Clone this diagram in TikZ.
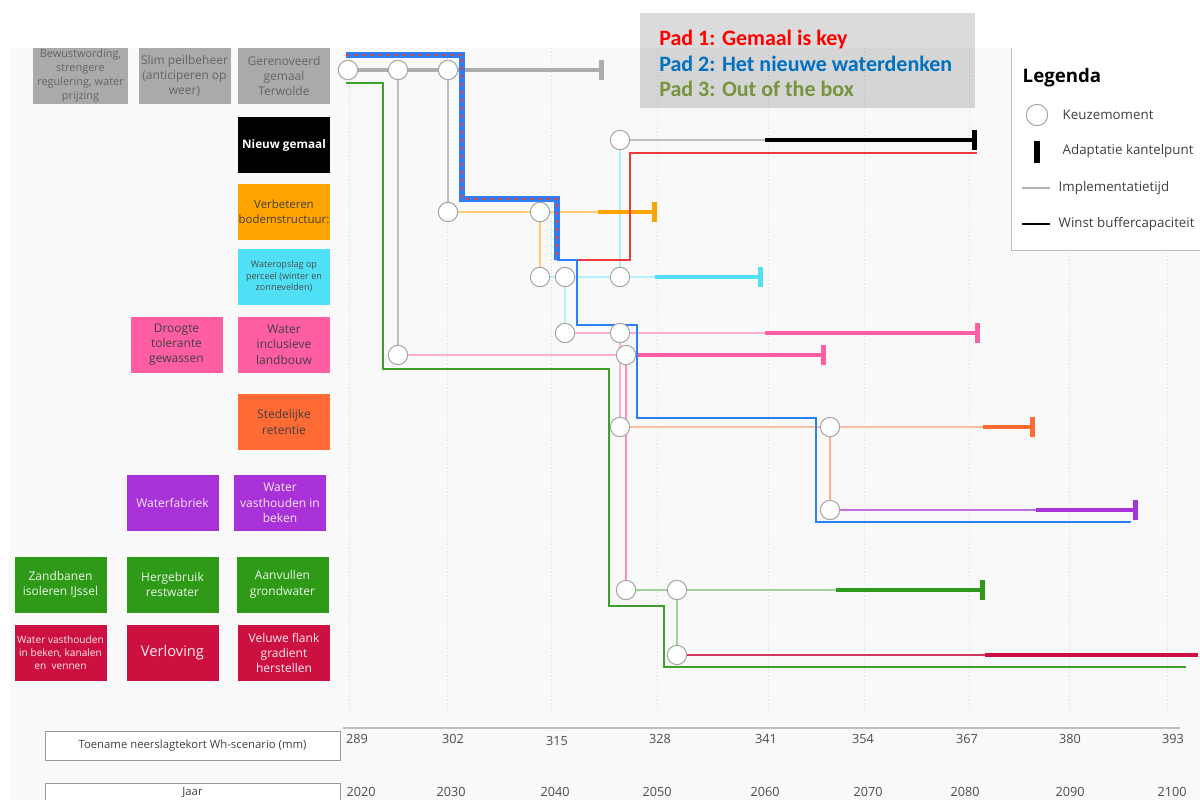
\documentclass[tikz,border=0pt]{standalone}
\usepackage{fontspec}
\setmainfont{Open Sans}
\setsansfont{Open Sans}
\newfontfamily\padfont{Carlito}
\usetikzlibrary{arrows.meta}
\usetikzlibrary{positioning}

\definecolor{bggrey}{HTML}{F9F9F9}
\definecolor{boxgrey}{HTML}{AAAAAA}
\definecolor{bodemorange}{HTML}{FFA300}
\definecolor{opslagcyan}{HTML}{4FE0F5}
\definecolor{landbouwpink}{HTML}{FF5FA2}
\definecolor{retentieorange}{HTML}{FF6B35}
\definecolor{fabriekpurple}{HTML}{A832D8}
\definecolor{grondgreen}{HTML}{2E9A17}
\definecolor{veluwecrimson}{HTML}{CC1040}
\definecolor{pad1red}{HTML}{F03A3A}
\definecolor{pad2blue}{HTML}{2D7FF9}
\definecolor{pad3green}{HTML}{3DA02A}
\definecolor{padtextred}{HTML}{FF0000}
\definecolor{padtextblue}{HTML}{0070C0}
\definecolor{padtextgreen}{HTML}{77933C}

\begin{document}
\begin{tikzpicture}[x=0.75pt, y=-0.75pt, >={Bar[width=15pt, line width=3.8pt]}, font=\sffamily]
    \tikzstyle{keuze}=[circle, draw=black!35, fill=white, minimum size=14.5pt, inner sep=0pt, line width=0.8pt]
    \tikzstyle{maatregel}=[rectangle, minimum width=69pt, minimum height=42pt, align=center, inner sep=0pt, font=\fontsize{9}{11.5}\selectfont]
    \tikzstyle{impl}=[line width=1.1pt]
    \tikzstyle{winst}=[line width=2.6pt, ->]
    \tikzstyle{pad}=[line width=1.9pt]
    \tikzstyle{raster}=[draw=black!14, dotted, line width=0.6pt]
    \tikzstyle{asvak}=[draw=black!40, fill=white, minimum width=221pt, minimum height=22pt, inner sep=0pt, font=\fontsize{8.5}{10}\selectfont, text=black!75]
    \tikzstyle{asgetal}=[text=black!70, font=\fontsize{9.5}{11}\selectfont]
    \tikzstyle{legtekst}=[anchor=west, text=black!75, font=\fontsize{10}{12}\selectfont]
    \tikzstyle{padtekst}=[anchor=base west, inner sep=0pt, font=\padfont\bfseries\fontsize{16.5}{19}\selectfont]

    \useasboundingbox (0,0) rectangle (1200,800);
    \fill[bggrey] (10,48) rectangle (1200,800);
    \foreach \x in {349,447,551,657,768,864,969,1069,1167}
        \draw[raster] (\x,48) -- (\x,712);

    % maatregelen
    \node[maatregel, fill=boxgrey, text=black!60, minimum width=71pt, font=\fontsize{8.2}{10.5}\selectfont] (bewust) at (80.5,76) {Bewustwording,\\strengere\\regulering, water\\prijzing};
    \node[maatregel, fill=boxgrey, text=black!60] (peil) at (184.5,76) {Slim peilbeheer\\(anticiperen op\\weer)};
    \node[maatregel, fill=boxgrey, text=black!60] (terwolde) at (284,76) {Gerenoveerd\\gemaal\\Terwolde};
    \node[maatregel, fill=black, text=white, font=\fontsize{8.8}{11}\selectfont\bfseries] (gemaal) at (284,145) {Nieuw gemaal};
    \node[maatregel, fill=bodemorange, text=black!75, font=\fontsize{8.6}{11.5}\selectfont] (bodem) at (284,212) {Verbeteren\\bodemstructuur:};
    \node[maatregel, fill=opslagcyan, text=black!70, font=\fontsize{6.8}{8.8}\selectfont] (opslag) at (284,276.5) {Wateropslag op\\perceel (winter en\\zonnevelden)};
    \node[maatregel, fill=landbouwpink, text=black!75] (droogte) at (176.5,344.5) {Droogte\\tolerante\\gewassen};
    \node[maatregel, fill=landbouwpink, text=black!75] (landbouw) at (284,344.5) {Water\\inclusieve\\landbouw};
    \node[maatregel, fill=retentieorange, text=black!75] (retentie) at (284,422) {Stedelijke\\retentie};
    \node[maatregel, fill=fabriekpurple, text=white!88!fabriekpurple] (fabriek) at (172.5,503) {Waterfabriek};
    \node[maatregel, fill=fabriekpurple, text=white!88!fabriekpurple] (beken) at (280,503) {Water\\vasthouden in\\beken};
    \node[maatregel, fill=grondgreen, text=white!90!grondgreen] (zandbanen) at (60.5,584.5) {Zandbanen\\isoleren IJssel};
    \node[maatregel, fill=grondgreen, text=white!90!grondgreen] (hergebruik) at (172.5,584.5) {Hergebruik\\restwater};
    \node[maatregel, fill=grondgreen, text=white!90!grondgreen] (aanvullen) at (282.5,584.5) {Aanvullen\\grondwater};
    \node[maatregel, fill=veluwecrimson, text=white!92!veluwecrimson, font=\fontsize{7.6}{9.8}\selectfont] (vennen) at (60.5,653) {Water vasthouden\\in beken, kanalen\\en\ \ vennen};
    \node[maatregel, fill=veluwecrimson, text=white!92!veluwecrimson, font=\fontsize{11}{13}\selectfont] (verloving) at (172.5,653) {Verloving};
    \node[maatregel, fill=veluwecrimson, text=white!92!veluwecrimson] (veluwe) at (284,653) {Veluwe flank\\gradient\\herstellen};

    % keuzemomenten en eindpunten
    \coordinate (g1) at (348,70);  \coordinate (g2) at (398,70);  \coordinate (g3) at (448,70);  \coordinate (grijs) at (604,70);
    \coordinate (n1) at (620,140); \coordinate (nw) at (765,140); \coordinate (ne) at (977,140);
    \coordinate (o1) at (448,212); \coordinate (o2) at (540,212); \coordinate (ow) at (598,212); \coordinate (oe) at (657,212);
    \coordinate (c1) at (540,277); \coordinate (c2) at (565,277); \coordinate (c3) at (620,277);
    \coordinate (cw) at (655,277); \coordinate (ce) at (763,277);
    \coordinate (p1) at (565,333); \coordinate (p2) at (620,333); \coordinate (pw) at (765,333); \coordinate (pe) at (980,333);
    \coordinate (q1) at (398,355); \coordinate (q2) at (626,355); \coordinate (qe) at (826,355);
    \coordinate (s1) at (620,427); \coordinate (s2) at (830,427); \coordinate (sw) at (983,427); \coordinate (se) at (1035,427);
    \coordinate (v1) at (830,510); \coordinate (vw) at (1036,510); \coordinate (ve) at (1138,510);
    \coordinate (a1) at (626,590); \coordinate (a2) at (677,590); \coordinate (aw) at (836,590); \coordinate (ae) at (985,590);
    \coordinate (r1) at (677,655); \coordinate (rw) at (985,655); \coordinate (re) at (1198,655);

    % implementatietijd en winst buffercapaciteit
    \draw[black!32, line width=2.4pt] (g1) -- (g2) -- (g3);
    \draw[black!32, winst] (g3) -- (grijs);
    \draw[black!25, impl] (g2) -- (q1);
    \draw[black!25, impl] (g3) -- (o1);
    \draw[black!25, impl] (n1) -- (nw);
    \draw[black, winst] (nw) -- (ne);
    \draw[opslagcyan!50, impl] (n1) -- (c3);
    \draw[bodemorange!55, impl] (o1) -- (o2) -- (ow);
    \draw[bodemorange, winst] (ow) -- (oe);
    \draw[bodemorange!55, impl] (o2) -- (c1);
    \draw[opslagcyan!45, impl] (c1) -- (c2) -- (c3) -- (cw);
    \draw[opslagcyan, winst] (cw) -- (ce);
    \draw[opslagcyan!45, impl] (c2) -- (p1);
    \draw[landbouwpink!50, impl] (p1) -- (p2) -- (pw);
    \draw[landbouwpink, winst] (pw) -- (pe);
    \draw[landbouwpink!50, impl] (p2) -- (s1);
    \draw[landbouwpink!50, impl] (q1) -- (q2);
    \draw[landbouwpink, winst] (q2) -- (qe);
    \draw[landbouwpink!70, impl] (q2) -- (a1);
    \draw[retentieorange!45, impl] (s1) -- (s2) -- (sw);
    \draw[retentieorange, winst] (sw) -- (se);
    \draw[retentieorange!55, impl] (s2) -- (v1);
    \draw[fabriekpurple!70, impl] (v1) -- (vw);
    \draw[fabriekpurple, winst] (vw) -- (ve);
    \draw[grondgreen!45, impl] (a1) -- (a2) -- (aw);
    \draw[grondgreen, winst] (aw) -- (ae);
    \draw[grondgreen!45, impl] (a2) -- (r1);
    \draw[veluwecrimson!85, impl] (r1) -- (rw);
    \draw[veluwecrimson, line width=2.6pt] (rw) -- (re);

    % paden
    \coordinate (w1) at (346,55); \coordinate (w2) at (462,55); \coordinate (w3) at (462,199);
    \coordinate (w4) at (557,199); \coordinate (w5) at (557,260);
    \coordinate (rood1) at (630,260); \coordinate (rood2) at (630,153); \coordinate (rood3) at (977,153);
    \coordinate (blauw1) at (577,260); \coordinate (blauw2) at (577,325); \coordinate (blauw3) at (637,325);
    \coordinate (blauw4) at (637,418); \coordinate (blauw5) at (816,418); \coordinate (blauw6) at (816,522);
    \coordinate (blauw7) at (1131,522);
    \coordinate (groen1) at (346,83); \coordinate (groen2) at (383,83); \coordinate (groen3) at (383,369);
    \coordinate (groen4) at (609,369); \coordinate (groen5) at (609,606); \coordinate (groen6) at (664,606);
    \coordinate (groen7) at (664,667); \coordinate (groen8) at (1186,667);

    \draw[pad, pad1red] (w5) -- (rood1) -- (rood2) -- (rood3);
    \draw[pad, pad2blue] (w5) -- (blauw1) -- (blauw2) -- (blauw3) -- (blauw4) -- (blauw5) -- (blauw6) -- (blauw7);
    \draw[pad2blue, line width=3.8pt] (w1) -- (w2) -- (w3) -- (w4) -- (w5);
    \draw[pad1red, line width=1.5pt, dash pattern=on 2pt off 4pt] (w1) -- (w2) -- (w3) -- (w4) -- (w5);
    \draw[pad, pad3green] (groen1) -- (groen2) -- (groen3) -- (groen4) -- (groen5) -- (groen6) -- (groen7) -- (groen8);

    \foreach \k in {g1,g2,g3,n1,o1,o2,c1,c2,c3,p1,p2,q1,q2,s1,s2,v1,a1,a2,r1}
        \node[keuze] at (\k) {};

    % as
    \draw[black!25, line width=1.5pt] (343,728) -- (1180,728);
    \node[asvak] (toename) at (192.5,745.5) {Toename neerslagtekort Wh-scenario (mm)};
    \node[asvak] (jaar) at (192.5,797.5) {};
    \node[text=black!75, font=\fontsize{8.5}{10}\selectfont] (tjaar) at (192.5,793) {Jaar};
    \foreach \x/\y/\mm in {357/739/289, 453/739/302, 557/741/315, 660/739/328, 766/739/341, 863/739/354, 967/739/367, 1070/739/380, 1173/739/393}
        \node[asgetal] at (\x,\y) {\mm};
    \foreach \x/\jr in {361/2020, 451/2030, 555/2040, 657/2050, 765/2060, 868/2070, 965/2080, 1070/2090, 1172/2100}
        \node[asgetal] at (\x,792) {\jr};

    % legenda
    \fill[white] (1011,48) rectangle (1205,250);
    \draw[black!25] (1011,48) -- (1011,250) -- (1205,250);
    \node[anchor=west, font=\fontsize{14}{16}\selectfont\bfseries] (legenda) at (1018,78) {Legenda};
    \node[keuze, minimum size=16pt] (lkeuze) at (1037,115) {};
    \node[legtekst] (tkeuze) at (1058,115) {Keuzemoment};
    \draw[black, line width=5pt] (1037,141) -- (1037,163);
    \node[legtekst] (tkantel) at (1058,151) {Adaptatie kantelpunt};
    \coordinate (limpl1) at (1022,188); \coordinate (limpl2) at (1050,188);
    \draw[black!30, impl] (limpl1) -- (limpl2);
    \node[legtekst] (timpl) at (1054,188) {Implementatietijd};
    \coordinate (lwinst1) at (1022,224); \coordinate (lwinst2) at (1050,224);
    \draw[black, line width=2pt] (lwinst1) -- (lwinst2);
    \node[legtekst] (twinst) at (1054,224) {Winst buffercapaciteit};

    % paden tekst
    \fill[black, fill opacity=0.14] (640,13) rectangle (975,108);
    \node[padtekst, text=padtextred] (pad1) at (659,45) {Pad 1: Gemaal is key};
    \node[padtekst, text=padtextblue] (pad2) at (659,71) {Pad 2: Het nieuwe waterdenken};
    \node[padtekst, text=padtextgreen] (pad3) at (659,96) {Pad 3: Out of the box};
\end{tikzpicture}
\end{document}
